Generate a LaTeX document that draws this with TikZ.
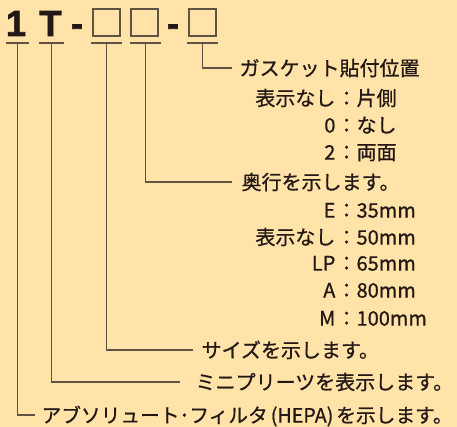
\documentclass[tikz,border=0pt]{standalone}
\usepackage{fontspec}
\setmainfont{Noto Sans CJK JP}[FakeBold=0.8]
\newfontfamily\codefont{Liberation Sans Bold}[FakeBold=2]
\definecolor{bgc}{RGB}{255,227,168}
\definecolor{linec}{RGB}{95,83,67}
\definecolor{txtc}{RGB}{35,24,21}
\tikzset{every picture/.style={line width=1.2pt}}

\begin{document}
\begin{tikzpicture}[x=1pt,y=1pt,yscale=-1,xscale=1,
	txt/.style={text=txtc, font=\fontsize{20}{20}\selectfont, inner sep=0pt, text height=17.6pt, text depth=2.4pt},
	codech/.style={text=txtc, font=\codefont\fontsize{36.3}{36}\selectfont, inner sep=0pt, anchor=base},
	codebox/.style={draw=linec, line width=1.8pt, minimum size=27.5pt, inner sep=0pt},
	uline/.style={fill=linec, inner sep=0pt, minimum height=1.5pt},
	conn/.style={draw=linec, line width=1.2pt}]
	%set diagram size 457 x 427
	\fill[bgc] (0,0) rectangle (457,427);
	\useasboundingbox (0,0) rectangle (457,427);

	% Code characters
	\node[codech] (one) at (16,36) {1};
	\node[codech] (tee) at (50.5,36) {T};
	\node[codech] (dashA) at (77,36) {-};
	\node[codebox] (boxA) at (106.5,22.5) {};
	\node[codebox] (boxB) at (144.5,22.5) {};
	\node[codech] (dashB) at (173,36) {-};
	\node[codebox] (boxC) at (202.5,22.5) {};

	% Underlines
	\node[uline, minimum width=23pt] (ulOne) at (17.5,43) {};
	\node[uline, minimum width=25pt] (ulTee) at (51.5,43) {};
	\node[uline, minimum width=31pt] (ulA) at (106.5,43) {};
	\node[uline, minimum width=31pt] (ulB) at (145.5,43) {};
	\node[uline, minimum width=31pt] (ulC) at (202.5,43) {};

	% Text Node
	\node[txt, anchor=west] (gasket) at (239,68) {ガスケット貼付位置};
	\node[txt, anchor=east] (gkey1) at (336,98) {表示なし};
	\node[txt, anchor=west] (gval1) at (336,98) {：片側};
	\node[txt, anchor=east] (gkey2) at (336,125) {0};
	\node[txt, anchor=west] (gval2) at (336,125) {：なし};
	\node[txt, anchor=east] (gkey3) at (336,152) {2};
	\node[txt, anchor=west] (gval3) at (336,152) {：両面};
	% Text Node
	\node[txt, anchor=west] (depth) at (241,182) {奥行を示します。};
	\node[txt, anchor=east] (dkey1) at (336,210) {E};
	\node[txt, anchor=west] (dval1) at (336,210) {：35mm};
	\node[txt, anchor=east] (dkey2) at (336,237) {表示なし};
	\node[txt, anchor=west] (dval2) at (336,237) {：50mm};
	\node[txt, anchor=east] (dkey3) at (336,263) {LP};
	\node[txt, anchor=west] (dval3) at (336,263) {：65mm};
	\node[txt, anchor=east] (dkey4) at (336,290) {A};
	\node[txt, anchor=west] (dval4) at (336,290) {：80mm};
	\node[txt, anchor=east] (dkey5) at (336,318) {M};
	\node[txt, anchor=west] (dval5) at (336,318) {：100mm};
	% Text Node
	\node[txt, anchor=west] (size) at (201,350) {サイズを示します。};
	% Text Node
	\node[txt, anchor=west] (pleat) at (195,382) {ミニプリーツを表示します。};
	% Text Node
	\node[txt, anchor=west, font=\fontsize{19.7}{20}\selectfont] (hepa) at (41,415) {アブソリュート･フィルタ\hspace{3pt}(HEPA)\hspace{3pt}を示します。};

	%Straight Lines
	\draw[conn, shorten >=7pt] (ulC.south) |- (gasket.west);
	\draw[conn, shorten >=9pt] (ulB.south) |- (depth.west);
	\draw[conn, shorten >=8pt] (ulA.south) |- (size.west);
	\draw[conn, shorten >=15pt] (ulTee.south) |- (pleat.west);
	\draw[conn, shorten >=6pt] (ulOne.south) |- (hepa.west);

\end{tikzpicture}
\end{document}
